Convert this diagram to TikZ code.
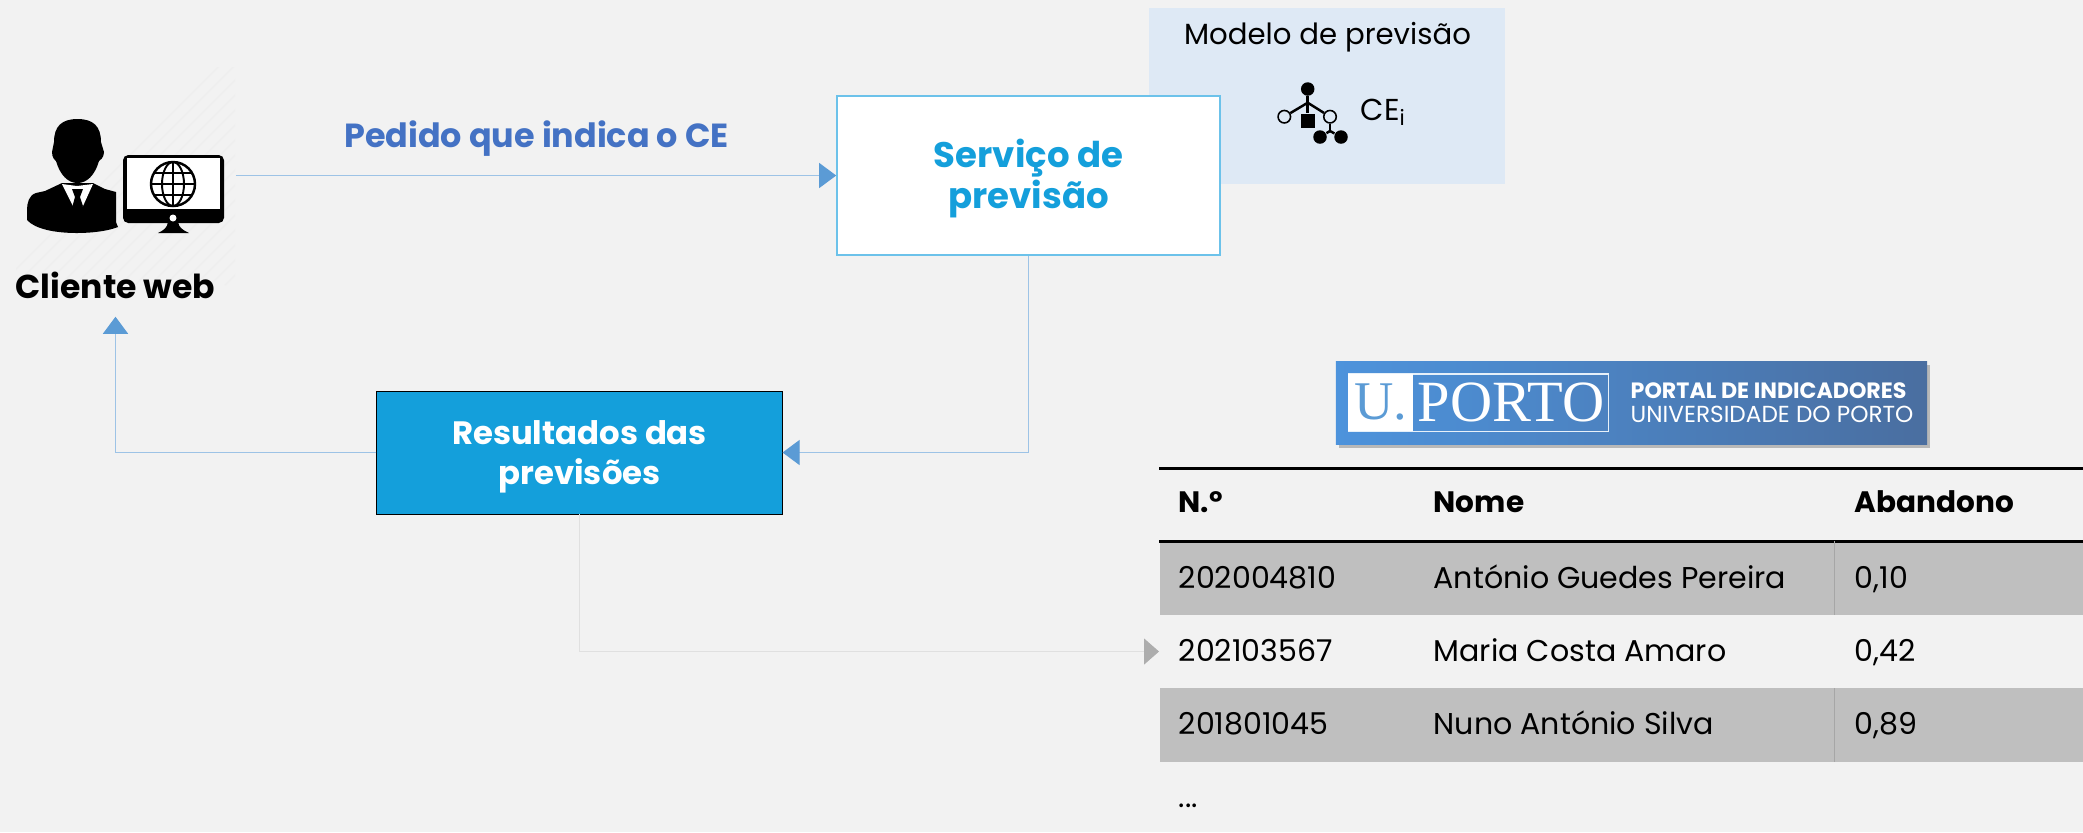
\documentclass[tikz,border=0pt]{standalone}
\usepackage{fontspec}
\setmainfont{Poppins}
\newfontfamily\logoserif{Liberation Serif}
\usetikzlibrary{positioning, calc, shapes.geometric, arrows.meta, shadows}
\definecolor{Backdrop}{HTML}{F2F2F2}
\definecolor{ModelFill}{HTML}{DEE9F5}
\definecolor{ServiceBlue}{HTML}{149FDB}
\definecolor{ServiceEdge}{HTML}{6CC2EA}
\definecolor{LineBlue}{HTML}{9DC3E6}
\definecolor{TipBlue}{HTML}{5B9BD5}
\definecolor{RequestBlue}{HTML}{4472C4}
\definecolor{RowGrey}{HTML}{BFBFBF}
\definecolor{LogoLeft}{HTML}{4D93DC}
\definecolor{LogoRight}{HTML}{4A6EA0}
\tikzstyle{Arrow} = [
%Create custom arrow style:
line width = 0.3pt, draw = LineBlue,
-{Triangle[length = 0.17cm, width = 0.25cm, color = TipBlue]}
]
\tikzstyle{FaintArrow} = [
line width = 0.3pt, draw = black!12,
-{Triangle[length = 0.15cm, width = 0.26cm, color = black!32]}
]

\begin{document}
\begin{tikzpicture}[
			x = 0.01cm, y = -0.01cm,
			service/.style = {rectangle, draw = ServiceEdge, line width = 0.4pt, fill = white, text = ServiceBlue, font = \fontsize{10.1}{11.7}\selectfont\bfseries, align = center, minimum width = 3.83cm, minimum height = 1.59cm},
			results/.style = {rectangle, draw = black, line width = 0.25pt, fill = ServiceBlue, text = white, font = \fontsize{9.2}{11.4}\selectfont\bfseries, align = center, minimum width = 4.05cm, minimum height = 1.23cm},
			model/.style = {rectangle, fill = ModelFill, minimum width = 3.56cm, minimum height = 1.76cm},
			row/.style = {rectangle, anchor = west, minimum width = 9.24cm, minimum height = 0.735cm, inner sep = 0},
			cell/.style = {anchor = west, inner sep = 0, text height = 0.75em, text depth = 0.2em, font = \fontsize{8.55}{10}\selectfont},
			headcell/.style = {cell, font = \fontsize{8.4}{10}\selectfont\bfseries},
			tabrule/.style = {line width = 0.85pt, black},
			rowsplit/.style = {line width = 0.3pt, black!35},
			treelink/.style = {line width = 0.7pt, black},
			opendot/.style = {circle, draw = black, line width = 0.45pt, inner sep = 0, minimum size = 0.125cm},
			fulldot/.style = {circle, fill = black, inner sep = 0, minimum size = 0.135cm},
		]

		\fill[Backdrop] (0,0) rectangle (2083,832);
		\useasboundingbox (0,0) rectangle (2083,832);

		\begin{scope}
			\clip (16,67) rectangle (235,285);
			\foreach \i in {0,15,...,450}
				\draw[black!6.5, line width = 0.4pt] (\i,285) -- ++(235,-235);
		\end{scope}

		\node[rectangle, minimum width = 2.19cm, minimum height = 2.18cm, inner sep = 0](Client) at (125.5,175.5){};
		\node[font = \fontsize{9.4}{11}\selectfont\bfseries, black, minimum height = 0.62cm, inner sep = 0](ClientName) at (115.5,285){Cliente web};

		\fill[black] (77.5,119) .. controls (62,119) and (54,126) .. (54,142) -- (52,152) .. controls (52,158) and (55,160) .. (56,161) .. controls (60,175) and (68,183) .. (77.5,183) .. controls (87,183) and (95,175) .. (99,161) .. controls (100,160) and (104,158) .. (104,152) -- (101,142) .. controls (101,126) and (93,119) .. (77.5,119) -- cycle;
		\fill[black] (62,183) -- (45,191) -- (36,193) .. controls (29,195) and (27,203) .. (27,210) -- (27,220) .. controls (35,229) and (55,233) .. (77,233) .. controls (92,233) and (108,231) .. (118,227) -- (116,222) -- (116,192) -- (105,189) -- (93,183) -- cycle;
		\fill[white] (62,184) -- (73,206) -- (83,206) -- (93,184) -- (77,186) -- cycle;
		\fill[black] (72,189) -- (83,189) -- (80,197) -- (83,206) -- (77.5,210) -- (72.5,206) -- (75,197) -- cycle;

		\fill[black, rounded corners = 1.5] (123,155) rectangle (224,223);
		\fill[white] (127,158) rectangle (220,209);
		\fill[black] (168,222) -- (178,222) .. controls (179,228) and (183,230) .. (189,233) -- (158,233) .. controls (164,230) and (167,228) .. (168,222) -- cycle;
		\fill[white] (173,218) circle (3.5);
		\draw[black, line width = 0.7pt] (173,184) circle (22);
		\draw[black, line width = 0.55pt] (173,162) -- (173,206) (151,184) -- (195,184) (155,173) -- (191,173) (155,195) -- (191,195);
		\draw[black, line width = 0.55pt] (173,184) ellipse (11 and 22);

		\node[model](Model) at (1327,96){};
		\node[font = \fontsize{8.3}{10}\selectfont, black](ModelName) at (1327.5,37){Modelo de previsão};
		\node[service](Service) at (1028.5,175.5){\rule{0pt}{9.6pt}Serviço de\\previsão};
		\node[results](Results) at (579.5,452.5){\rule{0pt}{9.4pt}Resultados das\\previsões};

		\node[font = \fontsize{9.5}{11}\selectfont\bfseries, text = RequestBlue](Request) at (536.5,139){Pedido que indica o CE};

		\node[fulldot](TreeTop) at (1307.7,89){};
		\node[opendot](TreeLeft) at (1284.3,116.7){};
		\node[opendot](TreeRight) at (1330,116.7){};
		\node[rectangle, fill = black, inner sep = 0, minimum size = 0.14cm](TreeMid) at (1307.7,120.7){};
		\node[fulldot](TreeLow) at (1320,137){};
		\node[fulldot](TreeHigh) at (1341,137){};
		\coordinate(TreeFork) at (1307.7,102.7);
		\coordinate(TreeSub) at (1330,131);
		\draw[treelink](TreeTop)--(TreeFork);
		\draw[treelink](TreeFork)--(TreeMid);
		\draw[treelink](TreeFork)--(TreeLeft);
		\draw[treelink](TreeFork)--(TreeRight);
		\draw[treelink](TreeRight)--(TreeSub);
		\draw[treelink](TreeSub)--(TreeLow);
		\draw[treelink](TreeSub)--(TreeHigh);
		\node[anchor = west, inner sep = 0, font = \fontsize{8.6}{10}\selectfont, black](TreeName) at (1360,112){CE\textsubscript{i}};

		\draw[Arrow](Client.east)--(Service.west);
		\draw[Arrow](Service.south)|-(Results.east);
		\draw[Arrow](Results.west)-|(ClientName.south);

		\node[rectangle, left color = LogoLeft, right color = LogoRight, minimum width = 5.91cm, minimum height = 0.82cm, drop shadow = {shadow xshift = 0.03cm, shadow yshift = -0.035cm, opacity = 0.5}](Logo) at (1631.5,403){};
		\node[rectangle, draw = white!85!TipBlue, line width = 0.3pt, minimum width = 2.6cm, minimum height = 0.57cm, inner sep = 0](LogoFrame) at (1478.5,402.5){};
		\node[rectangle, fill = white, minimum width = 0.65cm, minimum height = 0.57cm, inner sep = 0, text = TipBlue, font = \logoserif\fontsize{15.5}{16}\selectfont](LogoU) at (1380.5,402.5){U.};
		\node[anchor = west, inner sep = 0, text = white, font = \logoserif\fontsize{16.6}{17}\selectfont](LogoPorto) at (1417,402.5){PORTO};
		\node[anchor = west, inner sep = 0, align = left, text = white, font = \fontsize{6.3}{6.8}\selectfont](LogoText) at (1630,403){\textbf{PORTAL DE INDICADORES}\\{\fontsize{6.6}{6.8}\selectfont UNIVERSIDADE DO PORTO}};

		\node[row, fill = RowGrey](RowA) at (1159,578){};
		\node[row](RowB) at (1159,651.5){};
		\node[row, fill = RowGrey](RowC) at (1159,725){};

		\draw[tabrule] (1159,468) -- (2083,468);
		\draw[tabrule] (1159,541) -- (2083,541);
		\draw[rowsplit] (1834,541) -- (1834,615);
		\draw[rowsplit] (1834,688) -- (1834,762);

		\node[headcell](HeadNum) at (1178,503){N.º};
		\node[headcell](HeadName) at (1433,503){Nome};
		\node[headcell](HeadDrop) at (1854,503){Abandono};

		\node[cell](NumA) at (1178,579){202004810};
		\node[cell](NameA) at (1433,579){António Guedes Pereira};
		\node[cell](DropA) at (1854,579){0,10};
		\node[cell](NumB) at (1178,652){202103567};
		\node[cell](NameB) at (1433,652){Maria Costa Amaro};
		\node[cell](DropB) at (1854,652){0,42};
		\node[cell](NumC) at (1178,725){201801045};
		\node[cell](NameC) at (1433,725){Nuno António Silva};
		\node[cell](DropC) at (1854,725){0,89};
		\node[cell](More) at (1178,798){...};

		\draw[FaintArrow](Results.south)|-(RowB.west);

	\end{tikzpicture}
\end{document}
